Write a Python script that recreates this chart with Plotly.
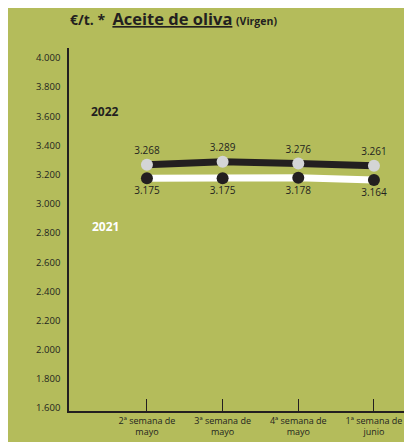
import plotly.graph_objects as go

categories = ["2ª semana de<br>mayo", "3ª semana de<br>mayo", "4ª semana de<br>mayo", "1ª semana de<br>junio"]
values_2022 = [3268, 3289, 3276, 3261]
values_2021 = [3175, 3175, 3178, 3164]
y_ticks = [1600, 1800, 2000, 2200, 2400, 2600, 2800, 3000, 3200, 3400, 3600, 3800, 4000]

GREEN = "#b4bc5b"
DARK = "#231f20"
FONT = "Open Sans"

def fmt(v):
    return f"{v:,}".replace(",", ".")

W, H = 412, 442
ml, mr, mt, mb = 61, 12, 40, 34
pw, ph = W - ml - mr, H - mt - mb

def px_x(px):
    return (px - ml) / pw

def px_y(py):
    return 1 - (py - mt) / ph

fig = go.Figure()
fig.add_trace(go.Scatter(
    x=list(range(len(categories))), y=values_2022, mode="lines+markers+text",
    line=dict(color=DARK, width=7), marker=dict(color="#d4d5d6", size=12),
    text=[fmt(v) for v in values_2022], textposition="top center",
    textfont=dict(family=FONT, size=10, color=DARK), cliponaxis=False, showlegend=False))
fig.add_trace(go.Scatter(
    x=list(range(len(categories))), y=values_2021, mode="lines+markers+text",
    line=dict(color="white", width=7), marker=dict(color=DARK, size=12),
    text=[fmt(v) for v in values_2021], textposition="bottom center",
    textfont=dict(family=FONT, size=10, color=DARK), cliponaxis=False, showlegend=False))

fig.update_layout(
    width=W, height=H, margin=dict(l=ml, r=mr, t=mt, b=mb),
    paper_bgcolor=GREEN, plot_bgcolor=GREEN, separators=",.",
    font=dict(family=FONT, color=DARK),
    xaxis=dict(range=[-1.03, 3.45], tickmode="array", tickvals=list(range(len(categories))),
               ticktext=categories, ticks="inside", ticklen=12, tickcolor=DARK, tickwidth=1.2,
               showline=True, linecolor=DARK, linewidth=1.5, showgrid=False, zeroline=False,
               tickfont=dict(family=FONT, size=9, color=DARK)),
    yaxis=dict(range=[1580, 4068], tickmode="array", tickvals=y_ticks, tickformat=",.0f",
               showline=True, linecolor=DARK, linewidth=1.5, showgrid=False, zeroline=False,
               ticks="", ticklabelstandoff=5, tickfont=dict(family=FONT, size=9.5, color=DARK)),
    annotations=[
        dict(xref="paper", yref="paper", x=px_x(60), y=px_y(10), xanchor="left",
             yanchor="middle", showarrow=False,
             text="<b>€/t. *</b>  <b><span style='text-decoration:underline;font-size:16.5px'>Aceite de oliva</span></b>"
                  " <span style='font-size:10.5px'><b>(Virgen)</b></span>",
             font=dict(family=FONT, size=14, color=DARK)),
        dict(xref="paper", yref="paper", x=px_x(97), y=px_y(104), xanchor="center", yanchor="middle",
             showarrow=False, text="<b>2022</b>", font=dict(family=FONT, size=12, color=DARK)),
        dict(xref="paper", yref="paper", x=px_x(97), y=px_y(221), xanchor="center", yanchor="middle",
             showarrow=False, text="<b>2021</b>", font=dict(family=FONT, size=12, color="white")),
    ],
)

fig.write_html("out.html")
